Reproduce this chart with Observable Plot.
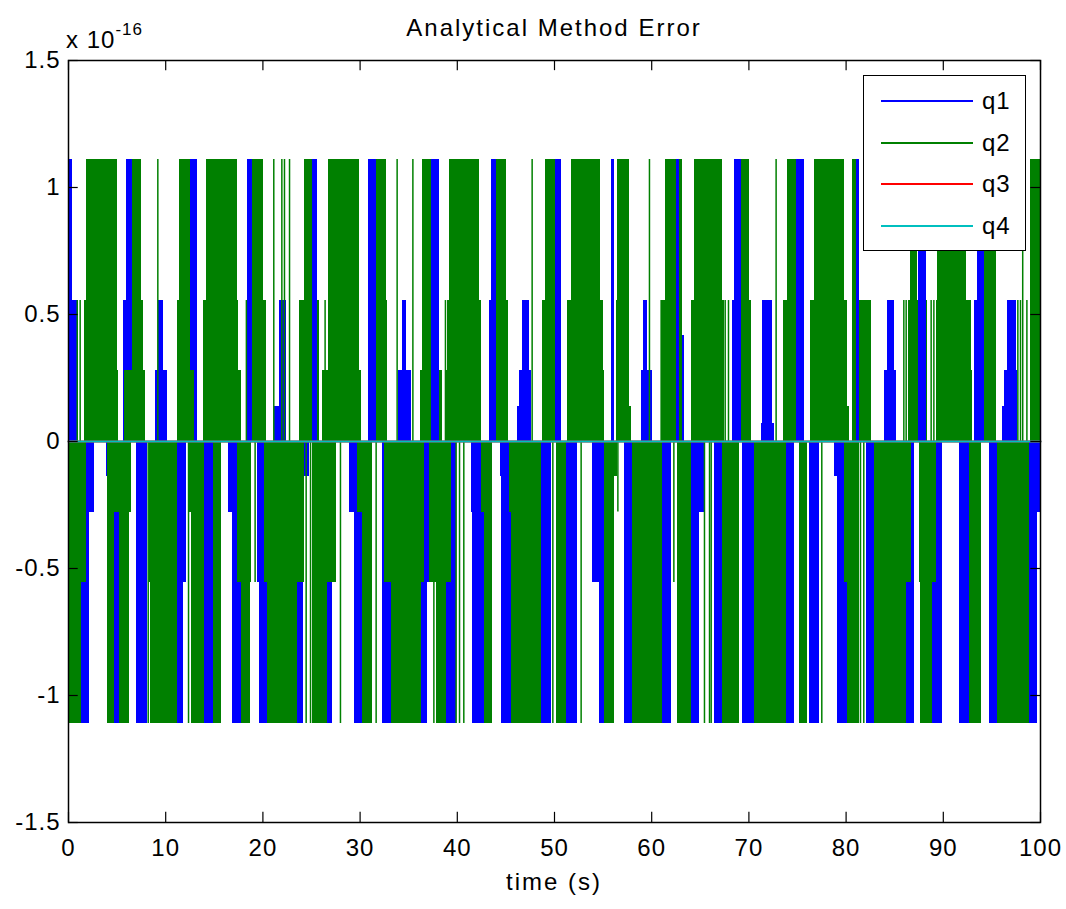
<!DOCTYPE html>
<html>
<head>
<meta charset="utf-8">
<script src="https://cdn.jsdelivr.net/npm/d3@7"></script>
<script src="https://cdn.jsdelivr.net/npm/@observablehq/plot@0.6"></script>
<style>
  body { margin: 0; background: #fff; font-family: "Liberation Sans", Arial, sans-serif; }
  #wrap { position: relative; width: 1066px; height: 909px; overflow: hidden; }
  #chart { position: absolute; left: 0; top: 0; }
  .txt { position: absolute; color: #000; white-space: nowrap; }
  #title { left: 0; width: 1108px; top: 14px; text-align: center; font-size: 24px; letter-spacing: 2px; }
  #expo { left: 66px; top: 24px; font-size: 24px; letter-spacing: 1px; }
  #expo sup { font-size: 17px; position: relative; top: -4px; }
  #xlabel { left: 0; width: 1108px; top: 868px; text-align: center; font-size: 24px; letter-spacing: 2px; }
  #legend { position: absolute; left: 863px; top: 75px; width: 161px; height: 174px; border: 1px solid #000; background: #fff; }
  .li { position: absolute; left: 0; width: 161px; height: 30px; }
  .li .ln { position: absolute; left: 17px; width: 92px; top: 14px; height: 2px; }
  .li .lb { position: absolute; left: 118px; top: 0; font-size: 24px; line-height: 30px; letter-spacing: 1px; }
  svg text { letter-spacing: 1px; }
</style>
</head>
<body>
<div id="wrap">
  <div id="chart"></div>
  <div class="txt" id="title">Analytical Method Error</div>
  <div class="txt" id="expo">x 10<sup>-16</sup></div>
  <div class="txt" id="xlabel">time (s)</div>
  <div id="legend"></div>
</div>
<script>
// ---- data (values in units of 1e-16) ----
// q1 / q2: bands of rapid oscillation between 0 and the given value: [tStart, tEnd, value]
const q1Bands = [
  [0,0.45,1.11],[0,1.0,0.555],[5.93,6.62,1.11],[5.69,6.62,0.555],[9.26,9.77,0.555],[8.92,10.22,0.278],
  [12.55,13.3,1.11],[18.38,18.96,1.11],[18.28,18.96,0.555],[21.71,22.39,0.555],[21.19,21.71,0.139],
  [25.14,25.65,1.11],[30.86,31.65,1.11],[30.86,31.65,0.555],[34.4,34.74,0.555],[33.9,35.25,0.278],
  [37.31,38.17,1.11],[43.48,44.0,1.11],[43.31,44.0,0.555],[46.74,47.43,0.555],[46.4,47.6,0.278],
  [46.23,47.6,0.139],[50.07,50.69,1.11],[55.83,56.2,1.11],[58.91,60.12,0.278],[59.2,59.6,0.555],
  [62.5,62.85,1.11],[63.2,63.4,0.416],[68.52,69.2,1.11],[68.35,69.2,0.555],[71.43,72.46,0.555],
  [71.26,72.6,0.069],[74.86,75.72,1.11],[81.03,81.41,1.11],[84.3,84.98,0.555],[83.95,85.15,0.278],
  [87.48,88.24,1.11],[93.55,94.24,1.11],[93.2,94.24,0.555],[96.64,97.5,0.555],[96.3,97.67,0.278],
  [96.13,97.67,0.139],
  [1.3,2.16,-1.11],[1.82,2.67,-0.278],[3.87,4.22,-0.139],[4.73,5.25,-1.11],[6.96,8.09,-1.11],
  [11.25,11.86,-1.11],[11.25,12.1,-0.555],[14.0,14.95,-1.11],[14.0,15.4,-0.278],[16.46,17.76,-0.278],
  [16.85,17.76,-1.11],[19.48,20.5,-0.555],[19.65,20.5,-1.11],[23.6,24.2,-1.11],[24.28,24.8,-0.139],
  [26.68,27.2,-1.11],[28.9,29.77,-0.278],[29.44,30.28,-1.11],[32.34,33.2,-1.11],[36.28,36.97,-1.11],
  [36.63,37.14,-0.555],[38.85,39.88,-1.11],[41.5,42.45,-0.278],[41.6,42.8,-1.11],[44.44,45.2,-0.139],
  [44.51,45.54,-1.11],[48.63,49.66,-1.11],[51.2,52.33,-1.11],[53.94,54.97,-0.555],[54.63,55.14,-1.11],
  [57.2,58.06,-1.11],[61.15,62.0,-1.11],[64.05,64.92,-1.11],[64.57,65.43,-0.278],[66.46,67.32,-1.11],
  [69.38,70.58,-1.11],[73.83,74.69,-1.11],[76.23,77.26,-1.11],[78.8,79.84,-0.139],[79.15,80.18,-1.11],
  [82.06,82.92,-1.11],[86.18,87.04,-1.11],[88.92,89.95,-1.11],[91.67,92.87,-0.278],[91.67,92.7,-1.11],
  [94.75,95.61,-1.11],[98.87,99.73,-1.11],[99.73,100,-0.278]
];
const q2Bands = [
  [1.82,5.0,1.11],[1.6,5.0,0.555],[1.6,5.18,0.278],[6.62,7.54,1.11],[6.62,7.72,0.555],[5.75,7.92,0.278],
  [11.42,12.55,1.11],[11.18,12.55,0.555],[11.18,12.96,0.278],[14.16,17.35,1.11],[13.92,17.52,0.555],
  [13.92,17.76,0.278],[18.96,20.1,1.11],[18.96,20.34,0.555],[24.28,25.14,1.11],[23.77,25.14,0.555],
  [25.65,25.82,0.555],[26.1,26.78,0.278],[26.78,29.94,1.11],[26.1,30.18,0.278],[31.65,32.68,1.11],
  [31.65,32.78,0.555],[32.68,32.85,0.139],[36.45,37.31,1.11],[36.21,37.31,0.278],[38.17,38.51,0.278],
  [39.19,42.28,1.11],[39.0,42.52,0.555],[38.78,42.52,0.278],[44.0,45.03,1.11],[44.0,45.27,0.555],
  [49.04,50.07,1.11],[48.8,50.07,0.555],[50.69,50.76,1.11],[51.78,54.73,1.11],[51.3,55.07,0.555],
  [51.3,55.14,0.278],[56.51,57.71,1.11],[56.34,57.71,0.555],[56.34,57.88,0.139],[61.42,62.5,1.11],
  [62.85,63.13,1.11],[60.97,62.5,0.555],[62.85,63.13,0.555],[64.4,67.32,1.11],[64.05,67.5,0.555],
  [69.2,70.06,1.11],[69.2,70.23,0.555],[74.0,74.86,1.11],[73.56,74.86,0.555],[76.75,79.84,1.11],
  [76.34,80.18,0.555],[76.34,80.35,0.139],[80.7,81.03,1.11],[81.41,82.58,0.555],[86.63,87.38,1.11],
  [86.42,87.48,0.555],[88.24,88.41,0.555],[89.37,92.35,1.11],[89.26,92.87,0.555],[89.26,93.0,0.278],
  [94.24,95.44,1.11],[94.24,95.44,0.555],[98.95,100,1.11],
  [0,1.3,-1.11],[0,1.82,-0.555],[4.05,4.73,-1.11],[5.25,6.28,-1.11],[4.22,6.45,-0.278],
  [8.44,11.25,-1.11],[8.33,11.25,-0.555],[12.62,14.0,-1.11],[12.35,14.0,-0.278],[14.95,15.71,-1.11],
  [15.43,15.71,-0.278],[17.76,18.72,-1.11],[17.42,18.79,-0.555],[20.5,23.6,-1.11],[20.16,24.28,-0.555],
  [25.14,26.68,-1.11],[25.14,27.54,-0.555],[30.28,31.31,-1.11],[29.77,31.31,-0.278],[32.51,33.2,-0.555],
  [33.2,36.28,-1.11],[33.2,36.63,-0.555],[37.83,38.85,-1.11],[37.14,39.37,-0.555],[42.8,43.66,-1.11],
  [42.45,43.66,-0.278],[45.54,48.63,-1.11],[45.37,48.63,-0.278],[50.17,51.2,-1.11],[55.14,56.17,-1.11],
  [55.14,56.52,-0.139],[58.06,61.15,-1.11],[62.69,64.05,-1.11],[67.32,69.03,-1.11],[70.58,73.83,-1.11],
  [75.2,76.06,-1.11],[80.18,81.38,-1.11],[79.84,81.38,-0.555],[82.92,86.18,-1.11],[82.92,86.7,-0.555],
  [87.65,88.92,-1.11],[87.5,89.26,-0.555],[92.7,93.9,-1.11],[95.61,98.87,-1.11]
];
// single q2 excursions: [t, value]
const q2Spikes = [
  [0.9,0.555],[1.2,0.555],[9.19,1.11],[18.3,0.555],[21.12,1.11],[21.95,1.11],[22.22,1.11],[22.74,1.11],
  [26.4,0.555],[33.81,1.11],[35.43,1.11],[38.78,0.555],[47.7,1.11],[59.77,1.11],[60.97,0.555],
  [67.56,0.555],[67.9,0.555],[72.8,1.11],[85.94,0.555],[86.18,0.555],[88.75,0.555],[89.03,0.555],
  [92.52,0.555],[97.67,0.555],[97.94,0.555],[98.17,1.11],[98.6,0.555],
  [8.2,-1.11],[12.35,-1.11],[19.2,-0.555],[24.45,-1.11],[24.9,-1.11],[27.98,-1.11],[31.65,-1.11],
  [37.59,-1.11],[39.88,-1.11],[40.23,-1.11],[40.67,-1.11],[49.83,-1.11],[52.74,-1.11],[56.52,-0.278],
  [62.28,-0.555],[65.43,-1.11],[65.95,-1.11],[66.12,-1.11],[77.5,-1.11],[81.48,-1.11],[81.82,-1.11]
];
// q3 and q4 stay at zero
const time34 = [0, 100];
const q3 = [0, 0];
const q4 = [0, 0];

const xTicks = [0,10,20,30,40,50,60,70,80,90,100];
const yTicks = [-1.5,-1,-0.5,0,0.5,1,1.5];
const seriesNames = ["q1","q2","q3","q4"];
const seriesColors = ["#0000ff","#008000","#ff0000","#00bfbf"];

// ---- chart ----
const flat34 = time34.map((t,i) => ({t, q3: q3[i], q4: q4[i]}));
const yMin = -1.5, yMax = 1.5, xMin = 0, xMax = 100;
const tickLenY = 0.04, tickLenX = 1.0;

const chart = Plot.plot({
  width: 1066, height: 909,
  marginTop: 60, marginRight: 26, marginBottom: 87, marginLeft: 68,
  x: {domain: [xMin, xMax]},
  y: {domain: [yMin, yMax]},
  style: {fontFamily: "'Liberation Sans', Arial, sans-serif", fontSize: "24px", background: "#fff", color: "#000"},
  marks: [
    Plot.rect(q1Bands, {x1: d => d[0], x2: d => d[1], y1: () => 0, y2: d => d[2], fill: seriesColors[0], shapeRendering: "crispEdges"}),
    Plot.rect(q2Bands, {x1: d => d[0], x2: d => d[1], y1: () => 0, y2: d => d[2], fill: seriesColors[1], shapeRendering: "crispEdges"}),
    Plot.ruleX(q2Spikes, {x: d => d[0], y1: () => 0, y2: d => d[1], stroke: seriesColors[1], strokeWidth: 1.5}),
    Plot.line(flat34, {x: "t", y: "q3", stroke: seriesColors[2], strokeWidth: 2}),
    Plot.line(flat34, {x: "t", y: "q4", stroke: seriesColors[3], strokeWidth: 2}),
    Plot.frame({stroke: "#000", strokeWidth: 1.5}),
    Plot.ruleX(xTicks, {x: d => d, y1: () => yMin, y2: () => yMin + tickLenY, stroke: "#000", strokeWidth: 1.2}),
    Plot.ruleX(xTicks, {x: d => d, y1: () => yMax, y2: () => yMax - tickLenY, stroke: "#000", strokeWidth: 1.2}),
    Plot.ruleY(yTicks, {y: d => d, x1: () => xMin, x2: () => xMin + tickLenX, stroke: "#000", strokeWidth: 1.2}),
    Plot.ruleY(yTicks, {y: d => d, x1: () => xMax, x2: () => xMax - tickLenX, stroke: "#000", strokeWidth: 1.2}),
    Plot.axisX({ticks: xTicks, tickSize: 0, tickPadding: 16, tickFormat: d => String(d), label: null, fontSize: 24}),
    Plot.axisY({ticks: yTicks, tickSize: 0, tickPadding: 8, tickFormat: d => String(d), label: null, fontSize: 24})
  ]
});
document.getElementById("chart").appendChild(chart);

// legend
const lg = document.getElementById("legend");
seriesNames.forEach((n, i) => {
  const row = document.createElement("div");
  row.className = "li";
  row.style.top = (10 + i * 41.5) + "px";
  row.innerHTML = `<div class="ln" style="background:${seriesColors[i]}"></div><div class="lb">${n}</div>`;
  lg.appendChild(row);
});
</script>
</body>
</html>
